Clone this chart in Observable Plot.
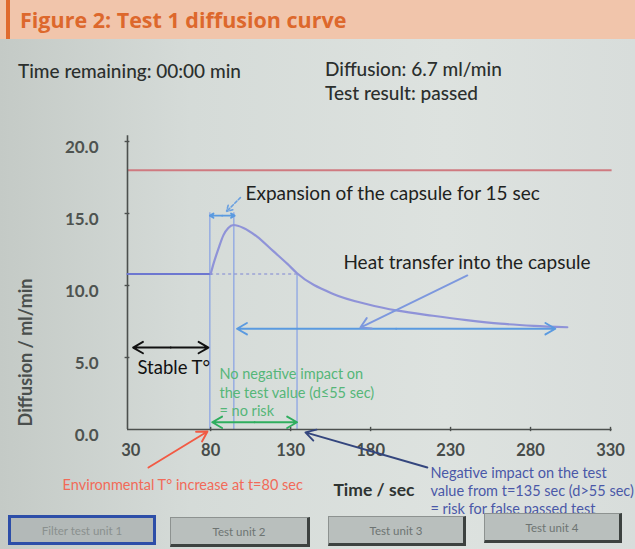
<!DOCTYPE html>
<html>
<head>
<meta charset="utf-8">
<script src="https://cdn.jsdelivr.net/npm/d3@7"></script>
<script src="https://cdn.jsdelivr.net/npm/@observablehq/plot@0.6"></script>
<style>
  html, body { margin: 0; padding: 0; width: 635px; height: 549px; overflow: hidden; background: #d9dedb; }
  #header { position: absolute; left: 0; top: 0; width: 635px; height: 39px; background: #f1c5ab; }
  #header .bar { position: absolute; left: 6px; top: 0; width: 4px; height: 39px; background: #e06a2e; }
  #header .title { position: absolute; left: 20px; top: 5px; font: 700 21.5px "Open Sans", sans-serif; color: #dd682c; white-space: nowrap; }
  #screen { position: absolute; left: 0; top: 39px; width: 635px; height: 510px;
    background: linear-gradient(90deg, #c4cac6 0%, #d5dbd8 30%, #dde2df 70%, #d8dddb 100%); overflow: hidden; }
  .status { position: absolute; font: 500 19px "Lato", sans-serif; color: #2b2f2d; white-space: nowrap; }
  .tab { position: absolute; box-sizing: border-box; height: 30px; background: #b9bfbd; border: 1px solid #8d9290;
    border-right: 3px solid #3d4240; border-bottom: 3px solid #3d4240; font: 11.5px "Lato", sans-serif; color: #6d7472;
    display: flex; align-items: center; justify-content: center; }
  .tab.sel { border: 3px solid #2d4ea8; background: #b3b9b8; color: #8a908e; }
  #chart { position: absolute; left: 0; top: 0; }
</style>
</head>
<body>
<div id="header"><div class="bar"></div><div class="title">Figure 2: Test 1 diffusion curve</div></div>
<div id="screen">
  <div id="chart"></div>
  <div class="status" style="left:18px; top:20px;">Time remaining: 00:00 min</div>
  <div class="status" style="left:325px; top:18px;">Diffusion: 6.7 ml/min</div>
  <div class="status" style="left:325px; top:42px;">Test result: passed</div>
  <div class="tab sel" style="left:8px; top:476px; width:148px;">Filter test unit 1</div>
  <div class="tab" style="left:170px; top:478px; width:140px;">Test unit 2</div>
  <div class="tab" style="left:328px; top:477px; width:138px;">Test unit 3</div>
  <div class="tab" style="left:484px; top:474px; width:138px;">Test unit 4</div>
</div>
<script>
// ---- data ----
const xTicks = [30, 80, 130, 180, 230, 280, 330];
const yTicks = [0, 5, 10, 15, 20];
const limitValue = 18.0;
const flatTimes = [28, 80];
const flatValues = [10.8, 10.8];
const curveTimes  = [80, 81.75, 85, 88, 91, 94.3, 100.5, 109, 119, 128, 134, 157, 178, 197, 219, 240, 261, 282, 303];
const curveValues = [10.8, 11.5, 12.6, 13.5, 14.0, 14.2, 14.0, 13.4, 12.4, 11.5, 10.85, 9.4, 8.7, 8.25, 7.9, 7.6, 7.35, 7.2, 7.1];
const markerTimes = [79.5, 94.5, 134];
const markerTops  = [15.05, 15.05, 10.8];
const baselineValue = 10.8;
const baselineSpan = [80, 134];

const xLabel = "Time / sec";
const yLabel = "Diffusion / ml/min";

// annotation arrows (data units)
const arrowLabels = ["expL", "expR", "stableL", "stableR", "greenL", "greenR", "heatL", "heatR", "heatPtr", "expPtr", "envPtr", "negPtr"];
const arrowX1 = [87.25, 87.25, 55, 55, 107.5, 107.5, 196, 196, 240.5, 98.6, 41.1, 215.5];
const arrowY1 = [14.85, 14.85, 5.69, 5.69, 0.5, 0.5, 7.0, 7.0, 10.7, 16.1, -2.64, -2.64];
const arrowX2 = [79.5, 95, 31.5, 78.6, 81, 134, 96.5, 295.5, 173.6, 89.9, 78, 139.25];
const arrowY2 = [14.85, 14.85, 5.69, 5.69, 0.5, 0.5, 7.0, 7.0, 7.08, 15.14, -0.14, -0.2];
const arrowColors = ["#5a9ae0", "#5a9ae0", "#111111", "#111111", "#2fae5e", "#2fae5e", "#5a9ae0", "#5a9ae0", "#7d98de", "#6aa0e0", "#f25a44", "#34467e"];

// single-line annotation texts (data units)
const noteTexts = [
  "Expansion of the capsule for 15 sec",
  "Heat transfer into the capsule",
  "Stable T°",
  "Environmental T° increase at t=80 sec"
];
const noteX = [101.75, 163, 34.25, -12.6];
const noteY = [16.35, 11.56, 4.3, -3.88];
const noteColors = ["#1e2220", "#1e2220", "#111111", "#f26a58"];
const noteSizes = [19, 19, 18.5, 14.5];
const noteWeights = [500, 500, 600, 400];

// multi-line annotation texts
const greenNote = "No negative impact on\nthe test value (d≤55 sec)\n= no risk";
const navyNote = "Negative impact on the test\nvalue from t=135 sec (d>55 sec)\n= risk for false passed test";

// ---- build ----
const flat = flatTimes.map((t, i) => ({t, v: flatValues[i]}));
const curve = curveTimes.map((t, i) => ({t, v: curveValues[i]}));
const markers = markerTimes.map((t, i) => ({t, top: markerTops[i]}));
const arrows = arrowLabels.map((k, i) => ({k, x1: arrowX1[i], y1: arrowY1[i], x2: arrowX2[i], y2: arrowY2[i], c: arrowColors[i]}));
const notes = noteTexts.map((s, i) => ({s, x: noteX[i], y: noteY[i], c: noteColors[i], fs: noteSizes[i], fw: noteWeights[i]}));

const chart = Plot.plot({
  width: 635,
  height: 510,
  marginLeft: 127,
  marginRight: 25,
  marginTop: 102,
  marginBottom: 120,
  style: {background: "transparent", fontFamily: "Lato, sans-serif", overflow: "visible"},
  x: {domain: [28, 330]},
  y: {domain: [0, 20]},
  marks: [
    Plot.axisY({ticks: yTicks, tickSize: 0, tickPadding: 29, tickFormat: d3.format(".1f"), dy: 6,
      fontSize: 17, fontWeight: 700, fill: "#4e5350", label: null}),
    Plot.axisX({ticks: xTicks, tickSize: 0, tickPadding: 15, tickFormat: d => String(d),
      fontSize: 16.5, fontWeight: 700, fill: "#474c4a", label: null}),
    Plot.ruleY([limitValue], {x1: 28, x2: 331, stroke: "#cf7a80", strokeWidth: 2}),
    Plot.ruleX(markers, {x: "t", y1: 0, y2: "top", stroke: "#86a0e4", strokeWidth: 1.2}),
    Plot.ruleY([baselineValue], {x1: baselineSpan[0], x2: baselineSpan[1], stroke: "#7e86d4", strokeWidth: 1.2, strokeDasharray: "3,3"}),
    // axes lines
    Plot.ruleX([28], {y1: 0, y2: 20.4, stroke: "#4c504e", strokeWidth: 1.6}),
    Plot.ruleY([0], {x1: 28, x2: 331, stroke: "#4c504e", strokeWidth: 1.6}),
    Plot.ruleY(yTicks.filter(d => d > 0), {x1: 26.5, x2: 29.5, stroke: "#4c504e", strokeWidth: 1.4}),
    Plot.ruleX(xTicks.filter(d => d > 30), {y1: -0.15, y2: 0.15, stroke: "#4c504e", strokeWidth: 1.4}),
    // data
    Plot.line(flat, {x: "t", y: "v", stroke: "#6d77d0", strokeWidth: 2.2}),
    Plot.line(curve, {x: "t", y: "v", stroke: "#8f93d8", strokeWidth: 2.2, curve: "monotone-x"}),
    // arrows
    Plot.arrow(arrows.filter(a => a.k !== "expPtr"), {x1: "x1", y1: "y1", x2: "x2", y2: "y2", stroke: "c",
      strokeWidth: 1.9, headLength: 9}),
    Plot.arrow(arrows.filter(a => a.k === "expPtr"), {x1: "x1", y1: "y1", x2: "x2", y2: "y2", stroke: "c",
      strokeWidth: 1.6, headLength: 7, strokeDasharray: "3,2"}),
    // texts
    Plot.text(notes, {x: "x", y: "y", text: "s", fill: "c", fontSize: "fs", textAnchor: "start", lineAnchor: "middle",
      fontWeight: (d) => d.fw}),
    Plot.text([greenNote], {x: 85.5, y: 2.62, textAnchor: "start", lineAnchor: "middle", lineHeight: 1.28,
      fontSize: 14.5, fill: "#55b678"}),
    Plot.text([navyNote], {x: 217.4, y: -4.24, textAnchor: "start", lineAnchor: "middle", lineHeight: 1.24,
      fontSize: 14.5, fill: "#4a58a8"}),
    Plot.text([xLabel], {x: 156.75, y: -4.22, textAnchor: "start", fontSize: 17.5, fontWeight: 700, fill: "#2f3432"}),
    Plot.text([yLabel], {x: -35.5, y: 5.35, rotate: -90, fontSize: 18, fontWeight: 700, fill: "#4a4f4d"})
  ]
});
document.getElementById("chart").appendChild(chart);
</script>
</body>
</html>
